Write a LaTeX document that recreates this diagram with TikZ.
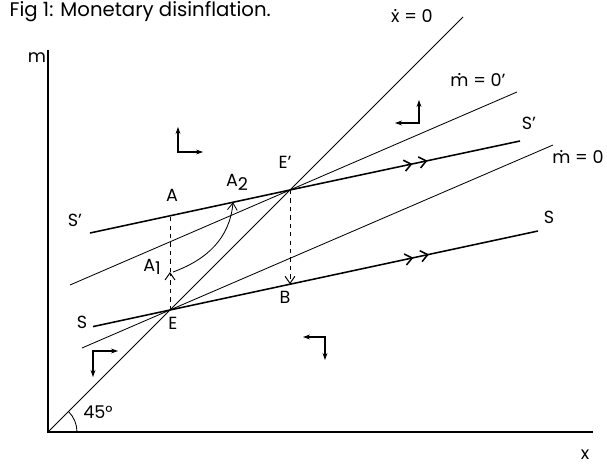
\documentclass[tikz,border=0pt]{standalone}
\usepackage{fontspec}
\setmainfont{Poppins}
\usetikzlibrary{arrows.meta, calc, decorations.markings}
\newcommand\rated[1]{{\ooalign{#1\cr\hidewidth\raisebox{0.6em}{.}\hidewidth\cr}}}

\begin{document}
\begin{tikzpicture}[x=0.25cm, y=0.25cm, font=\fontsize{12.5}{14}\selectfont,%
  axis/.style={line width=1.2pt},%
  locus/.style={line width=0.6pt},%
  saddle/.style={line width=1.1pt, postaction={decorate}, decoration={markings,%
    mark=at position #1 with {\arrow{Straight Barb[length=5pt,width=8pt]}},%
    mark=at position #1+0.035 with {\arrow{Straight Barb[length=5pt,width=8pt]}}}},%
  jump/.style={dashed, line width=0.7pt, -{Straight Barb[length=5pt,width=7pt]}},%
  phase/.style={line width=0.8pt, {Stealth[length=5pt,width=3.5pt]}-{Stealth[length=5pt,width=3.5pt]}},%
  lbl/.style={inner sep=1pt}%
]
  \useasboundingbox (-4.8,-3.3) rectangle (55.9,43.2);
  \coordinate (O) at (0,0);
  \coordinate (E) at (12.2,12.2);
  \coordinate (Ep) at (24.2,24.2);
  \coordinate (A) at (12.2,21.62);
  \coordinate (A1) at (12.2,16.0);
  \coordinate (A1s) at (12.5,16.0);
  \coordinate (A2) at (18.5,22.97);
  \coordinate (B) at (24.2,14.78);
  \draw[axis] (0,38.2) -- (O) -- (54.5,0);
  \draw[locus] (O) -- (41.5,41.5);
  \draw[locus] (3.4,8.4) -- (E) -- (50.5,28.7);
  \draw[locus] (2.2,14.7) -- (Ep) -- (46.9,34.0);
  \draw[saddle=0.72] (4.5,10.54) -- (E) -- (49.0,20.1);
  \draw[saddle=0.75] (4.2,19.9) -- (Ep) -- (47.2,29.1);
  \draw[locus] (2.9,0) arc[start angle=0, end angle=45, radius=2.9];
  \draw[dashed, line width=0.7pt] (A1) -- (A);
  \draw[jump] (E) -- (A1);
  \draw[jump] (Ep) -- (B);
  \draw[locus, -{Straight Barb[length=5pt,width=7pt]}] (A1s) to[out=20, in=-95] (A2);
  \draw[phase] (13.0,30.5) -- (13.0,28.0) -- (15.5,28.0);
  \draw[phase] (37.1,33.2) -- (37.1,30.9) -- (34.7,30.9);
  \draw[phase] (7.0,8.1) -- (4.5,8.1) -- (4.5,5.5);
  \draw[phase] (25.5,9.5) -- (27.7,9.5) -- (27.7,7.2);
  \node[lbl, anchor=west, font=\fontsize{14}{16}\selectfont] (title) at (-4.0,42.0) {Fig 1: Monetary disinflation.};
  \node[lbl] (ym) at (-1.1,37.4) {m};
  \node[lbl] (xx) at (53.7,-2.3) {x};
  \node[lbl] (xdot) at (36.4,41.6) {\rated{x} = 0};
  \node[lbl] (mdotp) at (43.0,35.2) {\rated{m} = 0'};
  \node[lbl] (mdot) at (53.0,27.5) {\rated{m} = 0};
  \node[lbl] (Spr) at (48.1,30.9) {S'};
  \node[lbl] (Spl) at (2.7,21.2) {S'};
  \node[lbl] (Sr) at (50.1,21.5) {S};
  \node[lbl] (Sl) at (3.4,11.0) {S};
  \node[lbl] (lA) at (12.4,23.7) {A};
  \node[lbl] (lA2) at (18.9,25.0) {A\raisebox{-0.4ex}{2}};
  \node[lbl] (lA1) at (10.4,16.5) {A\raisebox{-0.3ex}{1}};
  \node[lbl] (lEp) at (23.7,27.0) {E'};
  \node[lbl] (lE) at (12.5,10.9) {E};
  \node[lbl] (lB) at (23.7,13.5) {B};
  \node[lbl] (ang) at (5.0,2.0) {45°};
\end{tikzpicture}
\end{document}
